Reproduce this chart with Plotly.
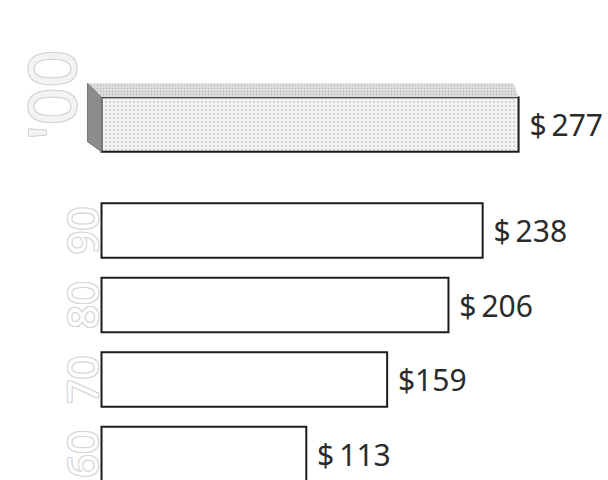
import plotly.graph_objects as go

# ---- data ----
decades = ["90", "80", "70", "60"]
prices = [238, 206, 159, 113]
top_decade = "'00"
top_price = 277

# ---- layout constants ----
W, H = 608, 480
BASE = 10 ** 1.6775            # where the bars start on the (hidden) log value axis
X_RANGE = [1.4913, 2.6065]     # log10 range of value axis
PX_PER_DEC = 545.2
PX_PER_CAT = 74.5
BARGAP = 0.27
Y_RANGE = [3.349, -3.094]      # category axis for lower four bars
Y2_RANGE = [-4.772, 1.671]     # axis for the highlighted top bar
TOP_POS = 0

FONT = "Noto Sans"
LABEL_COLOR = "#2b2b2b"
OUTLINE = "#1c1c1c"
GHOST = "#d6d6d6"
ghost_shadow = ", ".join(f"{dx}px {dy}px 0 {GHOST}" for dx, dy in
                         [(1, 1), (-1, -1), (1, -1), (-1, 1), (1, 0), (-1, 0), (0, 1), (0, -1)])

def money(v):
    return f"\u00a0${'' if v < 200 and v > 120 else chr(0x2009)}{v}"

fig = go.Figure()

fig.add_trace(go.Bar(
    y=decades, x=[p - BASE for p in prices], base=BASE, orientation="h",
    text=[money(p) for p in prices], textposition="outside", cliponaxis=False,
    textfont=dict(family=FONT, size=30, color=LABEL_COLOR),
    marker=dict(color="white", line=dict(color=OUTLINE, width=2)),
    xaxis="x", yaxis="y", showlegend=False, hoverinfo="skip",
))

fig.add_trace(go.Bar(
    y=[TOP_POS], x=[top_price - BASE], base=BASE, orientation="h",
    text=[money(top_price)], textposition="outside", cliponaxis=False,
    textfont=dict(family=FONT, size=30, color=LABEL_COLOR),
    marker=dict(color="#f4f4f4", line=dict(color=OUTLINE, width=2),
                pattern=dict(shape=".", fgcolor="#b4b4b4", size=4, solidity=0.25, fillmode="overlay")),
    xaxis="x", yaxis="y2", showlegend=False, hoverinfo="skip",
))

# 3D faces of the top bar, derived from its value
h = (1 - BARGAP) / 2
kx = 10 ** (-14 / PX_PER_DEC)
kx_r = 10 ** (-5 / PX_PER_DEC)
dy = 14 / PX_PER_CAT
dy_bot = 10 / PX_PER_CAT

fig.add_trace(go.Scatter(
    x=[BASE, BASE * kx, top_price * kx_r, top_price, BASE],
    y=[TOP_POS + h, TOP_POS + h + dy, TOP_POS + h + dy, TOP_POS + h, TOP_POS + h],
    fill="toself", fillcolor="#d6d6d6", mode="lines", line=dict(width=0),
    fillpattern=dict(shape=".", fgcolor="#9a9a9a", bgcolor="#e2e2e2", size=3, solidity=0.3),
    xaxis="x", yaxis="y2", showlegend=False, hoverinfo="skip",
))
fig.add_trace(go.Scatter(
    x=[BASE, BASE * kx, BASE * kx, BASE, BASE],
    y=[TOP_POS + h, TOP_POS + h + dy, TOP_POS - h + dy_bot, TOP_POS - h, TOP_POS + h],
    fill="toself", fillcolor="#8c8c8c", mode="lines", line=dict(width=1, color="#777777"),
    xaxis="x", yaxis="y2", showlegend=False, hoverinfo="skip",
))

annotations = []
for i, d in enumerate(decades):
    annotations.append(dict(
        x=81 / W, xref="paper", y=i, yref="y", text=d, showarrow=False, textangle=-90,
        font=dict(family=FONT, size=42, color="white", shadow=ghost_shadow),
        xanchor="center", yanchor="middle",
    ))
annotations.append(dict(
    x=50 / W, xref="paper", y=1 - 95 / H, yref="paper", text=top_decade, showarrow=False,
    textangle=-90, font=dict(family=FONT, size=66, color="#f3f3f3", shadow=ghost_shadow),
    xanchor="center", yanchor="middle",
))

fig.update_layout(
    width=W, height=H, margin=dict(l=0, r=0, t=0, b=0),
    paper_bgcolor="white", plot_bgcolor="white",
    bargap=BARGAP, showlegend=False,
    xaxis=dict(type="log", range=X_RANGE, domain=[0, 1], visible=False, fixedrange=True),
    yaxis=dict(type="category", range=Y_RANGE, domain=[0, 1], visible=False, fixedrange=True),
    yaxis2=dict(type="linear", range=Y2_RANGE, overlaying="y", visible=False, fixedrange=True),
    annotations=annotations,
)

fig.write_html("out.html", config={"displayModeBar": False},
               post_script="document.body.style.margin='0px';")
